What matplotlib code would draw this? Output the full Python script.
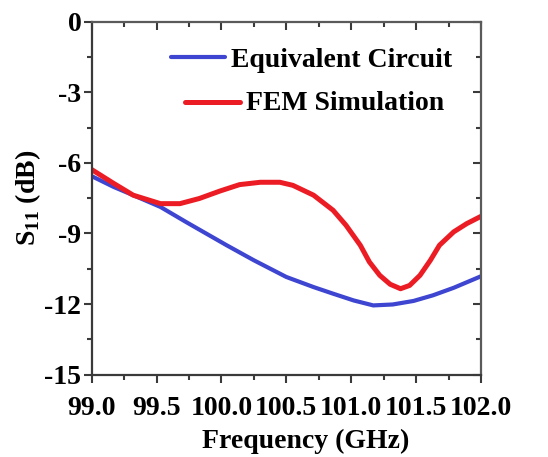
import matplotlib
matplotlib.use("Agg")
import matplotlib.pyplot as plt
from matplotlib.ticker import MultipleLocator

# data
freq_ec = [99.00, 99.17, 99.32, 99.53, 99.73, 100.04, 100.25, 100.50, 100.71,
           100.86, 101.02, 101.17, 101.32, 101.48, 101.63, 101.79, 102.00]
s11_ec = [-6.56, -7.02, -7.37, -7.87, -8.52, -9.50, -10.14, -10.85, -11.28,
          -11.56, -11.85, -12.06, -12.02, -11.87, -11.63, -11.31, -10.82]

freq_fem = [99.00, 99.17, 99.32, 99.53, 99.68, 99.83, 99.99, 100.14, 100.30,
            100.45, 100.55, 100.71, 100.86, 100.96, 101.07, 101.14, 101.22,
            101.30, 101.38, 101.45, 101.53, 101.61, 101.68, 101.79, 101.89, 102.00]
s11_fem = [-6.28, -6.87, -7.37, -7.73, -7.73, -7.51, -7.19, -6.92, -6.82,
           -6.82, -6.95, -7.37, -8.01, -8.65, -9.50, -10.21, -10.78,
           -11.16, -11.35, -11.21, -10.78, -10.14, -9.50, -8.93, -8.58, -8.27]

labels = ["Equivalent Circuit", "FEM Simulation"]

BLUE = '#3d45d1'
RED = '#ec1c24'
FRAME = '#3a3a3a'

plt.rcParams['font.family'] = ['Liberation Serif', 'DejaVu Serif']
plt.rcParams['font.weight'] = 'bold'
plt.rcParams['axes.unicode_minus'] = False
plt.rcParams['mathtext.fontset'] = 'custom'
plt.rcParams['mathtext.rm'] = 'Liberation Serif:bold'
plt.rcParams['mathtext.bf'] = 'Liberation Serif:bold'

fig = plt.figure(figsize=(5.48, 4.57), dpi=100)
ax = fig.add_axes([0.1673, 0.1805, 0.7104, 0.7714])

ax.plot(freq_ec, s11_ec, color=BLUE, lw=3.0, solid_capstyle='round',
        solid_joinstyle='round')
ax.plot(freq_fem, s11_fem, color=RED, lw=3.6, solid_capstyle='round',
        solid_joinstyle='round')

ax.set_xlim(99.0, 102.0)
ax.set_ylim(-15, 0)
ax.xaxis.set_major_locator(MultipleLocator(0.5))
ax.xaxis.set_minor_locator(MultipleLocator(0.25))
ax.yaxis.set_major_locator(MultipleLocator(3))
ax.yaxis.set_minor_locator(MultipleLocator(1.5))
ax.xaxis.set_major_formatter(plt.FormatStrFormatter('%.1f'))

for name, sp in ax.spines.items():
    sp.set_color(FRAME if name in ('left', 'bottom') else '#5a5a5a')
    sp.set_linewidth(1.6)

ax.tick_params(axis='both', which='both', direction='out', color=FRAME,
               width=1.5, labelsize=20)
ax.tick_params(axis='both', which='major', length=5.5)
ax.tick_params(axis='both', which='minor', length=3.5)
ax.tick_params(axis='x', pad=10)
ax.tick_params(axis='y', pad=2)

# mirrored ticks pointing inward on top and right
top = ax.secondary_xaxis('top')
top.xaxis.set_major_locator(MultipleLocator(0.5))
top.xaxis.set_minor_locator(MultipleLocator(0.25))
top.tick_params(which='both', direction='in', color=FRAME, width=1.5, labeltop=False)
top.tick_params(which='major', length=5.5)
top.tick_params(which='minor', length=3.5)
top.spines['top'].set_visible(False)

right = ax.secondary_yaxis('right')
right.yaxis.set_major_locator(MultipleLocator(3))
right.yaxis.set_minor_locator(MultipleLocator(1.5))
right.tick_params(which='both', direction='in', color=FRAME, width=1.5, labelright=False)
right.tick_params(which='major', length=5.5)
right.tick_params(which='minor', length=3.5)
right.spines['right'].set_visible(False)

ax.set_xlabel('Frequency (GHz)', fontsize=20, fontweight='bold')
ax.xaxis.set_label_coords(0.55, -0.155)
ax.set_ylabel(r'S$_{\mathbf{11}}$ (dB)', fontsize=20, fontweight='bold')
ax.yaxis.set_label_coords(-0.125, 0.5)

# legend drawn by hand, entries are offset like in the original
ax.plot([0.204, 0.342], [0.901, 0.901], transform=ax.transAxes, color=BLUE,
        lw=3.0, solid_capstyle='round')
ax.text(0.358, 0.872, labels[0], transform=ax.transAxes, fontsize=20,
        fontweight='bold', va='baseline', ha='left')
ax.plot([0.240, 0.381], [0.773, 0.773], transform=ax.transAxes, color=RED,
        lw=3.6, solid_capstyle='round')
ax.text(0.396, 0.750, labels[1], transform=ax.transAxes, fontsize=20,
        fontweight='bold', va='baseline', ha='left')

fig.savefig('out.png', dpi=100)
